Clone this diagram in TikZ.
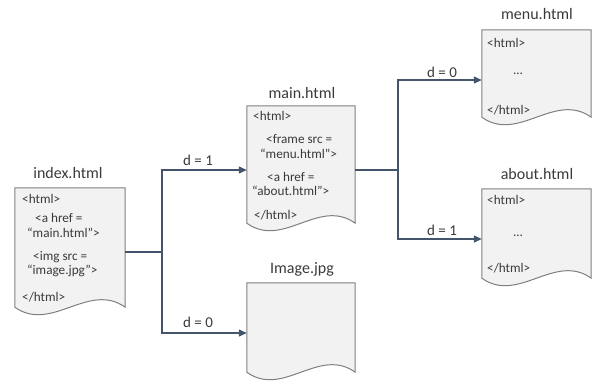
\documentclass[tikz,border=0pt]{standalone}
\usepackage{fontspec}
\setmainfont{Carlito}
\usetikzlibrary{arrows.meta,calc}
\definecolor{docgray}{HTML}{7F7F7F}
\definecolor{docfill}{HTML}{F2F2F2}
\definecolor{conncol}{HTML}{44546A}
\definecolor{txtcol}{HTML}{3A3A3A}
\tikzset{
  docnode/.style={rectangle, inner sep=0pt, draw=none},
  docoutline/.style={fill=docfill, draw=docgray, line width=1pt, line join=miter},
  title/.style={text=txtcol, font=\fontsize{16}{19}\selectfont, inner sep=0pt, anchor=base},
  body/.style={text=txtcol, font=\fontsize{13.2}{15}\selectfont, inner sep=0pt, anchor=west},
  dots/.style={text=txtcol, font=\fontsize{13.2}{15}\selectfont, inner sep=0pt},
  lbl/.style={text=txtcol, font=\fontsize{15}{18}\selectfont, inner sep=0pt},
  conn/.style={draw=conncol, line width=1.3pt},
  arr/.style={conn, -{Triangle[length=8pt,width=7pt]}},
}
\newcommand\docshape[1]{%
  \filldraw[docoutline] let \p1=(#1.south west), \p2=(#1.south east) in
    (#1.north west) -- (#1.north east) -- (#1.south east)
    .. controls (\x1*0.333+\x2*0.667, \y1+26pt) and (\x1*0.667+\x2*0.333, \y1-26pt) ..
    (#1.south west) -- cycle;}
\begin{document}
\begin{tikzpicture}[x=1pt,y=-1pt]
\useasboundingbox (0,0) rectangle (595,383);
% document nodes
\node[docnode, minimum width=110pt, minimum height=119pt] (index) at (70,247.5) {};
\node[docnode, minimum width=108pt, minimum height=117pt] (main) at (301,164.5) {};
\node[docnode, minimum width=108pt, minimum height=89pt] (image) at (301,327.5) {};
\node[docnode, minimum width=109pt, minimum height=87pt] (menu) at (536.5,73.5) {};
\node[docnode, minimum width=109pt, minimum height=89pt] (about) at (536.5,233.5) {};
\docshape{index}
\docshape{main}
\docshape{image}
\docshape{menu}
\docshape{about}
% titles
\node[title] (t-index) at (68,178) {index.html};
\node[title] (t-main) at (302,98) {main.html};
\node[title] (t-image) at (302,273) {Image.jpg};
\node[title] (t-menu) at (537,19) {menu.html};
\node[title] (t-about) at (537,179) {about.html};
% index text
\node[body] (i1) at (22,199) {<html>};
\node[body] (i2) at (35,218) {<a href =};
\node[body] (i3) at (27,233) {“main.html”>};
\node[body] (i4) at (33,257) {<img src =};
\node[body] (i5) at (27,271) {“image.jpg”>};
\node[body] (i6) at (22,297) {</html>};
% main text
\node[body] (m1) at (253,116) {<html>};
\node[body] (m2) at (266,139) {<frame src =};
\node[body] (m3) at (260,154) {“menu.html”>};
\node[body] (m4) at (267,177) {<a href =};
\node[body] (m5) at (252,191) {“about.html”>};
\node[body] (m6) at (254,215) {</html>};
% menu text
\node[body] (n1) at (487,43) {<html>};
\node[dots] (n2) at (518,74) {...};
\node[body] (n3) at (487,110) {</html>};
% about text
\node[body] (a1) at (487,200) {<html>};
\node[dots] (a2) at (518,236) {...};
\node[body] (a3) at (487,268) {</html>};
% connectors
\coordinate (j1) at (162,252);
\coordinate (ja) at (162,170);
\coordinate (jb) at (162,333);
\coordinate (j2) at (398,170);
\coordinate (jc) at (398,80);
\coordinate (jd) at (398,239);
\draw[conn] (index.east |- j1) -- (j1);
\draw[arr] (j1) -- (ja) -- (main.west |- ja);
\draw[arr] (j1) -- (jb) -- (image.west |- jb);
\draw[conn] (main.east |- j2) -- (j2);
\draw[arr] (j2) -- (jc) -- (menu.west |- jc);
\draw[arr] (j2) -- (jd) -- (about.west |- jd);
% labels
\node[lbl] (l1) at (198,160) {d = 1};
\node[lbl] (l2) at (198,322) {d = 0};
\node[lbl] (l3) at (442,72) {d = 0};
\node[lbl] (l4) at (442,230) {d = 1};
\end{tikzpicture}
\end{document}
